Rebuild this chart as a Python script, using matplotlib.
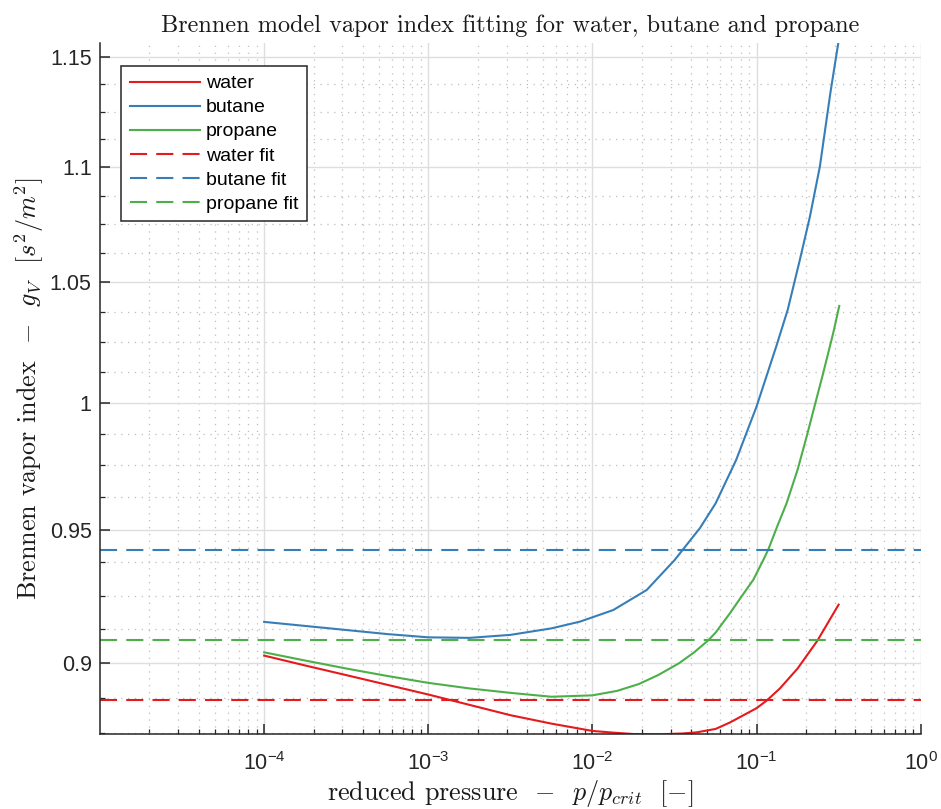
import matplotlib
matplotlib.use("Agg")
import matplotlib.pyplot as plt
from matplotlib.ticker import FixedLocator, FixedFormatter, NullFormatter, LogLocator
import numpy as np

# Reduced pressure p / p_crit given as decade exponents, with the Brennen vapor index g_V
exp_water = [-4.0, -3.75, -3.5, -3.25, -3.0, -2.75, -2.5, -2.25, -2.0, -1.873, -1.75,
             -1.6, -1.45, -1.365, -1.25, -1.162, -1.0, -0.9385, -0.8575, -0.75,
             -0.63, -0.5]
g_water = [0.9028, 0.8992, 0.8957, 0.8922, 0.8887, 0.8850, 0.8813, 0.8783, 0.8757,
           0.8751, 0.8746, 0.8745, 0.8748, 0.8752, 0.8764, 0.8787, 0.8838, 0.8865,
           0.8909, 0.8981, 0.9082, 0.9216]

exp_butane = [-4.0, -3.75, -3.5, -3.25, -3.0, -2.75, -2.5, -2.25, -2.0755, -1.873,
              -1.669, -1.499, -1.345, -1.249, -1.124, -1.0, -0.878, -0.81, -0.736,
              -0.675, -0.614, -0.55, -0.502]
g_butane = [0.9152, 0.9137, 0.9122, 0.9107, 0.9095, 0.9093, 0.9104, 0.9128, 0.9153,
            0.9196, 0.9271, 0.9384, 0.9506, 0.9602, 0.9772, 0.9985, 1.0235, 1.0384,
            1.0596, 1.0782, 1.1004, 1.1337, 1.1567]

exp_propane = [-4.0, -3.75, -3.5, -3.25, -3.0, -2.75, -2.5, -2.25, -2.0, -1.85,
               -1.716, -1.6, -1.4726, -1.38, -1.2942, -1.25, -1.162, -1.1, -1.02,
               -0.959, -0.929, -0.875, -0.817, -0.75, -0.695, -0.594, -0.533, -0.496]
g_propane = [0.9040, 0.9010, 0.8981, 0.8954, 0.8929, 0.8909, 0.8893, 0.8879, 0.8884,
             0.8900, 0.8925, 0.8957, 0.9000, 0.9040, 0.9084, 0.9112, 0.9184, 0.9239,
             0.9309, 0.9384, 0.9423, 0.9511, 0.9602, 0.9733, 0.9864, 1.0121, 1.0286,
             1.0400]

# Constant fitted indices
fit_water = 0.8867
fit_butane = 0.9423
fit_propane = 0.9086

x_range = [1e-5, 1e0]
y_major = [0.9, 0.95, 1.0, 1.05, 1.1, 1.15]
y_major_labels = ["0.9", "0.95", "1", "1.05", "1.1", "1.15"]
x_major = [1e-4, 1e-3, 1e-2, 1e-1, 1e0]

c_red = "#e41a1c"
c_blue = "#377eb8"
c_green = "#4daf4a"

plt.rcParams["font.family"] = ["Liberation Sans", "DejaVu Sans"]
plt.rcParams["mathtext.fontset"] = "cm"
plt.rcParams["axes.unicode_minus"] = False

fig = plt.figure(figsize=(9.41, 8.09), dpi=100)
ax = fig.add_axes([0.1063, 0.0923, 0.8721, 0.8545])

p_water = 10.0 ** np.array(exp_water)
p_butane = 10.0 ** np.array(exp_butane)
p_propane = 10.0 ** np.array(exp_propane)

lw = 1.5
dash = (8.2, 4.4)
line_kw = dict(lw=lw, solid_joinstyle="round")
ax.plot(p_water, g_water, color=c_red, label="water", **line_kw)
ax.plot(p_butane, g_butane, color=c_blue, label="butane", **line_kw)
ax.plot(p_propane, g_propane, color=c_green, label="propane", **line_kw)
ax.plot(x_range, [fit_water] * 2, color=c_red, lw=lw, dashes=dash, label="water fit")
ax.plot(x_range, [fit_butane] * 2, color=c_blue, lw=lw, dashes=dash, label="butane fit")
ax.plot(x_range, [fit_propane] * 2, color=c_green, lw=lw, dashes=dash, label="propane fit")

ax.set_xscale("log")
ax.set_yscale("log")
ax.set_xlim(*x_range)
all_g = g_water + g_butane + g_propane
ax.set_ylim(min(all_g), max(all_g))

ax.xaxis.set_major_locator(FixedLocator(x_major))
ax.xaxis.set_minor_locator(LogLocator(base=10, subs=np.arange(2, 10), numticks=20))
ax.xaxis.set_minor_formatter(NullFormatter())

ax.yaxis.set_major_locator(FixedLocator(y_major))
ax.yaxis.set_major_formatter(FixedFormatter(y_major_labels))
ax.yaxis.set_minor_locator(FixedLocator(list(np.arange(0.875, 1.16, 0.0125))))
ax.yaxis.set_minor_formatter(NullFormatter())

for s in ["top", "right"]:
    ax.spines[s].set_visible(False)
for s in ["left", "bottom"]:
    ax.spines[s].set_color("#262626")
    ax.spines[s].set_linewidth(1.1)

ax.tick_params(which="major", direction="in", length=7, width=1.1, color="#262626",
               labelsize=15.5, labelcolor="#262626")
ax.tick_params(which="minor", direction="in", length=3.5, width=0.9, color="#262626")
ax.tick_params(axis="x", which="major", pad=13)
ax.tick_params(axis="y", which="major", pad=6)

ax.grid(which="major", color="#dedede", lw=1.0, ls="-")
ax.grid(which="minor", color="#bdbdbd", lw=0.9, ls=(0, (1, 4.5)))
ax.set_axisbelow(True)

ax.set_title("Brennen model vapor index fitting for water, butane and propane",
             family="cmr10", fontsize=17.5, pad=8, color="#1a1a1a")
ax.set_xlabel(r"reduced pressure  $-$  $p/p_{crit}$  $[-]$", family="cmr10",
              fontsize=18.8, color="#1a1a1a", labelpad=2)
ax.set_ylabel(r"Brennen vapor index  $-$  $g_V$  $[s^2/m^2]$", family="cmr10",
              fontsize=18.8, color="#1a1a1a", labelpad=3)

leg = ax.legend(loc="upper left", bbox_to_anchor=(0.0256, 0.9667), borderaxespad=0,
                fontsize=14, handlelength=3.6, handletextpad=0.3, labelspacing=0.33,
                borderpad=0.45, fancybox=False, framealpha=1, edgecolor="#262626")
leg.get_frame().set_linewidth(1.1)

fig.savefig("out.png", dpi=100)
